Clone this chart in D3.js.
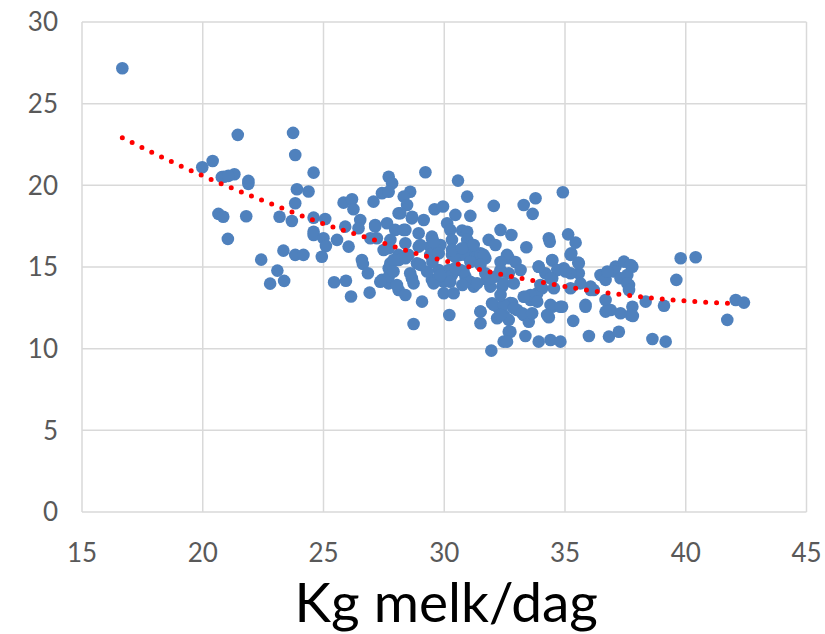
<!doctype html>
<html lang="no">
<head>
  <meta charset="utf-8">
  <title>Kg melk/dag</title>
  <script src="https://d3js.org/d3.v7.min.js"></script>
  <style>
    body { margin: 0; background: #fff; }
    svg text { font-family: Lato, "Open Sans", sans-serif; }
  </style>
</head>
<body>
<svg id="chart" width="825" height="634"></svg>
<script>
  // melk per dag (x) and the y value
  var melk = [16.67, 21.45, 20.41, 19.98, 20.88, 21.31, 21.89, 21.89, 20.79, 21.06,
    20.65, 20.85, 21.80, 21.04, 22.42, 22.79, 23.74, 23.83,
    24.59, 23.90, 24.38, 23.83, 23.18, 23.69, 24.59, 25.07, 24.59, 24.59, 25.0, 25.1,
    25.56, 25.90, 25.83, 26.18, 26.24, 26.52, 26.45, 26.04, 27.07, 27.14, 26.94, 27.42,
    27.70, 27.63, 23.34, 23.83, 24.17, 24.93, 26.59,
    23.09, 23.37, 25.44, 25.93, 26.14, 26.63, 26.84, 26.91, 27.42, 27.70, 27.70,
    29.22, 30.57, 27.84, 27.70, 28.59, 28.32, 28.46, 28.11, 28.66, 29.15, 29.60, 29.95,
    30.46, 30.95, 31.08, 32.05, 32.33, 32.78, 30.12, 30.25, 30.74, 30.95, 27.97, 28.39,
    28.94, 29.49, 27.77, 27.70, 28.39, 28.94, 29.42, 29.84, 30.32, 30.95, 31.15, 30.67,
    31.84, 32.12, 32.60, 31.57, 31.15, 30.32, 30.67, 29.42, 29.77, 28.11, 28.52,
    27.77, 28.11, 27.70, 28.66, 28.11, 28.39, 29.08, 28.73, 29.49, 29.98, 29.98, 30.39,
    30.21, 29.77, 30.18, 30.46, 30.88, 31.29, 31.70, 30.88, 31.22, 30.67, 31.70, 32.12,
    32.33, 32.67, 31.91, 32.40, 31.50, 31.50, 31.98, 32.26, 32.46, 32.19, 32.67, 32.67,
    32.46, 31.95, 32.74,
    34.91, 33.29, 33.78, 33.66, 33.40, 34.33, 34.37, 35.13, 35.44, 35.26, 35.55, 34.47,
    33.91, 32.67, 34.95, 37.09, 37.44, 37.79,
    35.57, 35.23, 34.19, 34.47, 34.05, 33.85, 33.36, 33.57, 32.81, 33.02, 33.29, 33.50,
    32.74, 32.60, 33.36, 33.91, 34.40, 34.81, 34.47, 34.88, 34.33, 35.85, 35.34, 35.99,
    36.47, 36.68, 37.02, 37.30, 37.58, 37.65, 36.68, 36.89, 37.30, 37.72, 36.82, 37.23,
    36.06, 36.19, 37.79,
    39.79, 40.41, 37.72, 39.61, 37.58, 37.65, 38.34, 39.10, 37.81, 38.62, 39.17, 42.07,
    42.41, 41.72,
    // denser middle of the cloud
    28.18, 28.67, 27.14, 28.32, 29.49, 27.21, 27.49, 29.01, 29.56, 30.32, 30.74, 31.50,
    27.90, 28.39, 28.87, 27.90, 28.59, 29.29, 29.77, 30.32, 30.80, 27.35, 28.04, 28.73,
    29.56, 30.25, 31.08, 31.77, 32.46, 31.22, 31.63, 32.60, 35.23, 34.47, 35.57, 33.91,
    34.68, 35.02, 32.33, 31.91, 32.88, 31.36, 33.98, 34.40, 34.54, 35.23, 35.64, 36.75,
    36.06, 33.57, 33.29, 33.85, 32.05, 32.46, 32.88, 34.40, 34.81, 35.85, 31.50, 32.33,
    33.23, 33.64, 34.26, 36.68,
    29.01, 29.51, 31.08, 31.50, 32.33, 32.95, 33.16, 30.46, 29.84, 30.75, 32.33];
  var verdi = [27.17, 23.09, 21.49, 21.11, 20.53, 20.68, 20.27, 20.09, 20.50, 20.58,
    18.25, 18.08, 18.11, 16.72, 15.45, 13.98, 23.21, 21.86,
    20.78, 19.76, 19.62, 18.90, 18.08, 17.82, 18.02, 17.94, 17.16, 16.96, 16.76, 16.29,
    16.66, 17.47, 18.94, 19.15, 18.54, 17.88, 17.37, 16.25, 19.0, 17.57, 16.76, 19.52,
    20.53, 17.68, 16.0, 15.74, 15.74, 15.63, 15.43,
    14.78, 14.15, 14.07, 14.16, 13.19, 15.19, 14.62, 13.43, 14.21, 14.0, 14.92,
    20.80, 20.29, 20.13, 19.61, 19.61, 19.31, 18.80, 18.29, 17.98, 17.88, 18.54, 18.70,
    18.19, 19.31, 18.13, 18.74, 17.27, 16.96, 17.68, 17.27, 17.23, 17.16, 17.27, 17.27,
    17.07, 16.76, 16.66, 16.15, 16.45, 16.25, 16.25, 16.35, 16.66, 16.66, 16.35, 16.04,
    16.66, 16.35, 15.74, 15.74, 15.74, 15.74, 15.74, 15.74, 15.84, 15.74, 15.74,
    15.23, 15.43, 14.41, 14.31, 13.59, 13.29, 12.88, 11.51, 14.21, 14.10, 13.39, 13.39,
    12.06, 14.82, 14.82, 15.63, 15.74, 15.63, 15.54, 14.41, 13.80, 14.82, 14.62, 14.41,
    14.82, 14.62, 13.80, 13.80, 12.27, 11.56, 12.78, 12.47, 12.06, 11.86, 11.76, 11.04,
    10.43, 9.88, 12.8,
    19.58, 18.80, 19.21, 18.25, 16.21, 16.76, 16.55, 17.0, 16.49, 15.84, 15.27, 15.39,
    15.02, 15.54, 14.92, 15.02, 15.33, 15.02,
    14.62, 14.62, 14.62, 14.31, 13.70, 13.39, 13.18, 12.98, 12.78, 12.37, 12.06, 11.65,
    11.04, 10.43, 10.78, 10.43, 10.53, 10.43, 12.57, 12.57, 11.92, 12.57, 11.70, 10.78,
    14.51, 14.21, 14.72, 14.31, 14.51, 13.90, 12.98, 12.37, 12.17, 12.06, 10.74, 11.04,
    13.80, 13.59, 12.57,
    15.54, 15.60, 15.12, 14.21, 14.0, 13.59, 12.88, 12.63, 12.0, 10.59, 10.43, 12.98,
    12.82, 11.76,
    // denser middle of the cloud
    18.29, 18.08, 17.47, 17.27, 16.86, 16.76, 16.04, 16.35, 16.55, 16.04, 16.15, 15.84,
    15.43, 15.54, 15.23, 14.72, 14.62, 14.72, 14.41, 14.51, 14.72, 14.10, 13.90, 14.00,
    14.00, 14.10, 14.10, 14.21, 14.00, 16.35, 15.74, 15.63, 15.74, 15.43, 15.23, 15.02,
    14.82, 14.72, 14.72, 14.31, 14.00, 14.00, 13.90, 14.31, 13.70, 13.70, 14.00, 14.72,
    13.59, 13.29, 13.18, 12.88, 12.68, 12.68, 12.47, 12.68, 12.57, 12.68, 12.27, 12.06,
    12.17, 12.17, 12.06, 12.27,
    15.13, 15.31, 15.31, 15.13, 15.31, 15.31, 14.82, 14.94, 14.51, 13.90, 13.29];

  // dotted trend line
  var trendX = [16.67, 18.85, 20.62, 22.42, 25.12, 27.40, 28.35, 30.20, 32.55, 33.98, 36.36, 37.79, 40.22, 42.14];
  var trendY = [22.92, 21.35, 20.19, 19.11, 17.59, 16.51, 16.04, 15.31, 14.49, 14.08, 13.49, 13.23, 12.90, 12.76];

  var xTicks = [15, 20, 25, 30, 35, 40, 45];
  var yTicks = [0, 5, 10, 15, 20, 25, 30];

  var svg = d3.select("#chart");
  var plotLeft = 82, plotRight = 806.5, plotTop = 22, plotBottom = 512;

  var x = d3.scaleLinear().domain([15, 45]).range([plotLeft, plotRight]);
  var y = d3.scaleLinear().domain([0, 30]).range([plotBottom, plotTop]);

  // grid
  svg.append("g")
    .selectAll("line")
    .data(xTicks)
    .enter().append("line")
    .attr("x1", function(d) { return x(d); })
    .attr("x2", function(d) { return x(d); })
    .attr("y1", y(30)).attr("y2", y(0))
    .attr("stroke", "#d9d9d9").attr("stroke-width", 1.5);

  svg.append("g")
    .selectAll("line")
    .data(yTicks)
    .enter().append("line")
    .attr("x1", x(15)).attr("x2", x(45))
    .attr("y1", function(d) { return y(d); })
    .attr("y2", function(d) { return y(d); })
    .attr("stroke", "#d9d9d9").attr("stroke-width", 1.5);

  // tick labels
  svg.append("g")
    .selectAll("text")
    .data(yTicks)
    .enter().append("text")
    .attr("x", plotLeft - 24)
    .attr("y", function(d) { return y(d); })
    .attr("dy", "0.36em")
    .attr("text-anchor", "end")
    .attr("font-size", 26)
    .attr("fill", "#595959")
    .text(function(d) { return d; });

  svg.append("g")
    .selectAll("text")
    .data(xTicks)
    .enter().append("text")
    .attr("x", function(d) { return x(d); })
    .attr("y", plotBottom + 41)
    .attr("dy", "0.36em")
    .attr("text-anchor", "middle")
    .attr("font-size", 26)
    .attr("fill", "#595959")
    .text(function(d) { return d; });

  // points
  var pts = melk.map(function(m, i) { return [m, verdi[i]]; });
  svg.append("g")
    .selectAll("circle")
    .data(pts)
    .enter().append("circle")
    .attr("cx", function(d) { return x(d[0]); })
    .attr("cy", function(d) { return y(d[1]); })
    .attr("r", 6.3)
    .attr("fill", "#4f81bd");

  // trend
  var line = d3.line()
    .x(function(d) { return x(d[0]); })
    .y(function(d) { return y(d[1]); })
    .curve(d3.curveMonotoneX);

  svg.append("path")
    .datum(trendX.map(function(t, i) { return [t, trendY[i]]; }))
    .attr("d", line)
    .attr("fill", "none")
    .attr("stroke", "#ff0000")
    .attr("stroke-width", 5)
    .attr("stroke-linecap", "round")
    .attr("stroke-dasharray", "0,10.9");

  // axis title
  svg.append("text")
    .attr("x", (plotLeft + plotRight) / 2 + 2)
    .attr("y", 622)
    .attr("text-anchor", "middle")
    .attr("font-size", 55)
    .attr("fill", "#000")
    .text("Kg melk/dag");
</script>
</body>
</html>
